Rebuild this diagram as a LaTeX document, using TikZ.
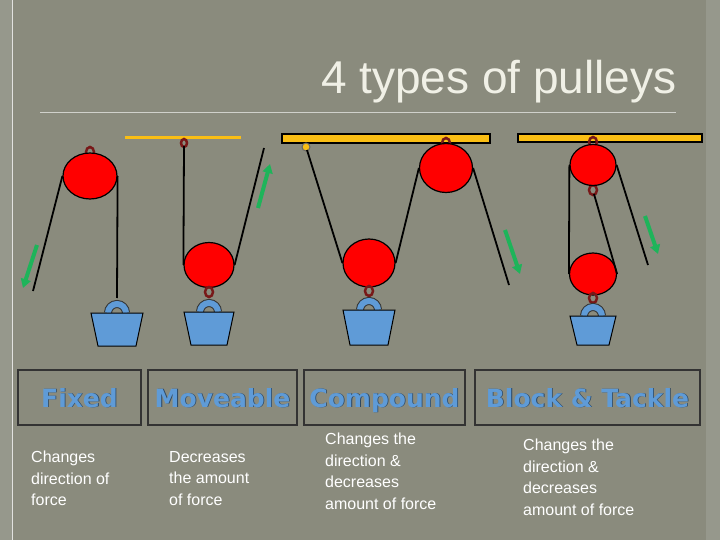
\documentclass[tikz,border=0pt]{standalone}
\usepackage{fontspec}
\setmainfont{Liberation Sans}
\newfontfamily\heavyfont[BoldFont={DejaVu Sans Bold}]{DejaVu Sans}
\usetikzlibrary{shapes.geometric,arrows.meta}
\definecolor{bg}{RGB}{138,139,125}
\definecolor{strip}{RGB}{150,152,140}
\definecolor{pred}{RGB}{255,0,0}
\definecolor{hookred}{RGB}{200,40,40}
\definecolor{bblue}{RGB}{95,155,215}
\definecolor{barcol}{RGB}{250,190,20}
\definecolor{garrow}{RGB}{30,180,90}
\definecolor{title}{RGB}{240,240,230}
\tikzset{
 pulley/.style={ellipse,draw=black,line width=1.2pt,fill=pred,inner sep=0pt},
 rope/.style={line width=1.8pt,black},
 hook/.style={draw=hookred!60!black,line width=2.5pt},
 basket/.style={draw=black,fill=bblue,line width=1pt},
 ringout/.style={draw=black!80,line width=8pt},
 ringin/.style={draw=bblue,line width=6pt},
 garr/.style={draw=black!60!green,fill=garrow,line width=0.4pt},
 lbox/.style={draw=black!80,line width=1.5pt},
 ltext/.style={font=\heavyfont\bfseries\fontsize{25}{28}\selectfont,text=bblue,anchor=base},
 lshadow/.style={font=\heavyfont\bfseries\fontsize{25}{28}\selectfont,text=black!55!bblue,anchor=base},
 desc/.style={font=\fontsize{16}{21.5}\selectfont,text=white,align=left,anchor=north west,inner sep=0pt},
}
\newcommand{\gar}[2]{% from tail to head
 \draw[garr,-{Triangle[length=9pt,width=10pt]},line width=4pt,draw=garrow] #1 -- #2;}
\newcommand{\bask}[5]{% cx, ringy, topy, halftop, bot
 \draw[ringout] (#1-9,#2) arc[start angle=180,end angle=360,radius=9];
 \draw[ringin] (#1-9,#2) arc[start angle=180,end angle=360,radius=9];
 \draw[basket] (#1-#4,#3) -- (#1+#4,#3) -- (#1+#4-7,#5) -- (#1-#4+7,#5) -- cycle;}
\newcommand{\lab}[3]{%
 \node[lshadow] (#1s) at (#2+0.8,407.8) {#3};
 \node[ltext] (#1) at (#2,407) {#3};}
\begin{document}
\begin{tikzpicture}[x=1pt,y=-1pt]
\useasboundingbox (0,0) rectangle (720,540);
\fill[bg] (0,0) rectangle (720,540);
\fill[strip] (0,0) rectangle (12,540);
\fill[strip] (706,0) rectangle (720,540);
\draw[white!75!bg,line width=0.6pt] (12,0) -- (12,540);
\node[font=\fontsize{46}{48}\selectfont,text=title,anchor=east] (ttl) at (680,82) {4 types of pulleys};
\draw[white!60!bg,line width=0.5pt] (40,112) -- (676,112);

% ---------- Fixed
\draw[hook] (90,152) ellipse[x radius=4,y radius=5];
\node[pulley,minimum width=54pt,minimum height=46pt] (f1) at (90,176) {};
\draw[rope] (f1.west) -- (33,291);
\draw[rope] (f1.east) -- (117,298);
\bask{117}{313}{313}{26}{346}
\gar{(37,245)}{(23,288)}

% ---------- Moveable
\draw[barcol,line width=3pt] (125,138) -- (241,138);
\draw[hook] (184,143) ellipse[x radius=3,y radius=4];
\node[pulley,minimum width=50pt,minimum height=45pt] (m1) at (209,265) {};
\draw[rope] (184,146) -- (m1.west);
\draw[rope] (m1.east) -- (264,148);
\draw[hook] (209,292) ellipse[x radius=4,y radius=5];
\bask{209}{312}{312}{25}{345}
\gar{(258,208)}{(270,164)}

% ---------- Compound
\draw[black,fill=barcol,line width=1.2pt] (282,134) rectangle (490,143);
\draw[draw=black!60,fill=barcol,line width=1pt] (306,147) circle (4);
\draw[hook] (446,143) ellipse[x radius=4,y radius=5];
\node[pulley,minimum width=53pt,minimum height=49pt] (c1) at (446,168) {};
\node[pulley,minimum width=52pt,minimum height=48pt] (c2) at (369,263) {};
\draw[rope] (307,150) -- (c2.west);
\draw[rope] (c2.east) -- (c1.west);
\draw[rope] (c1.east) -- (509,285);
\draw[hook] (369,291) ellipse[x radius=4,y radius=5];
\bask{369}{310}{310}{26}{345}
\gar{(505,230)}{(520,274)}

% ---------- Block & Tackle
\draw[black,fill=barcol,line width=1.2pt] (518,134) rectangle (702,142);
\draw[hook] (593,142) ellipse[x radius=4,y radius=5];
\draw[hook] (593,190) ellipse[x radius=4,y radius=5];
\node[pulley,minimum width=46pt,minimum height=41pt] (b1) at (593,165) {};
\node[pulley,minimum width=47pt,minimum height=42pt] (b2) at (593,274) {};
\draw[rope] (b1.west) -- (b2.west);
\draw[rope] (594,194) -- (b2.east);
\draw[rope] (b1.east) -- (648,265);
\draw[hook] (593,298) ellipse[x radius=4,y radius=5];
\bask{593}{316}{316}{23}{345}
\gar{(645,216)}{(658,254)}

% ---------- label boxes
\draw[lbox] (18,370) rectangle (141,425);
\draw[lbox] (148,370) rectangle (297,425);
\draw[lbox] (304,370) rectangle (465,425);
\draw[lbox] (475,370) rectangle (700,425);
\lab{l1}{79.5}{Fixed}
\lab{l2}{222.5}{Moveable}
\lab{l3}{384.5}{Compound}
\lab{l4}{587.5}{Block \& Tackle}

\node[desc] (d1) at (31,451) {Changes\\direction of\\force};
\node[desc] (d2) at (169,451) {Decreases\\the amount\\of force};
\node[desc] (d3) at (325,433) {Changes the\\direction \&\\decreases\\amount of force};
\node[desc] (d4) at (523,439) {Changes the\\direction \&\\decreases\\amount of force};
\end{tikzpicture}
\end{document}
